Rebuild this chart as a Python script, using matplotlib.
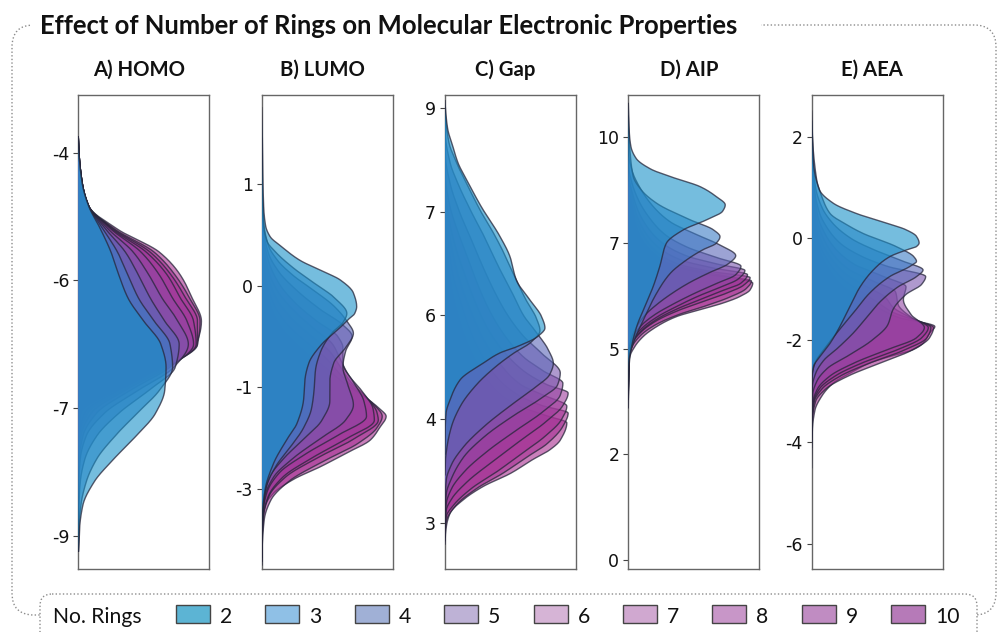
import numpy as np
import matplotlib
matplotlib.use("Agg")
import matplotlib.pyplot as plt
from matplotlib.patches import FancyBboxPatch, Rectangle
from matplotlib.transforms import Affine2D

plt.rcParams["font.family"] = ["DejaVu Sans"]

# ---------------------------------------------------------------------------
# Data: density profiles (value, density in % of panel width) per ring count
# ---------------------------------------------------------------------------
RINGS = [2, 3, 4, 5, 6, 7, 8, 9, 10]

HOMO_LEVELS = [-3.8, -4.0, -4.4, -4.7, -5.0, -5.3, -5.6, -5.9, -6.2, -6.5,
               -6.8, -7.1, -7.4, -7.7, -8.0, -8.3, -8.6, -8.9, -9.2]
HOMO_DENS = {
    2:  [0, 0.5, 3, 8, 17, 25, 31, 38, 50, 63, 67, 66, 59, 44, 27, 12, 3.5, 1, 0.3],
    3:  [0, 0.5, 3, 8, 19, 30, 38, 46, 58, 70, 72, 62, 45, 28, 14, 6, 2, 0.5, 0],
    4:  [0, 0.5, 3, 8, 21, 36, 46, 55, 66, 77, 74, 54, 31, 14, 5, 1.5, 0.5, 0.2, 0],
    5:  [0, 0.5, 3, 8, 23, 42, 54, 64, 76, 84, 73, 46, 20, 6, 1.5, 0.5, 0.2, 0, 0],
    6:  [0, 0.5, 3, 8, 25, 48, 62, 72, 83, 88, 70, 40, 14, 3.5, 0.8, 0.2, 0, 0, 0],
    7:  [0, 0.5, 3, 8, 26, 52, 68, 78, 88, 90, 68, 36, 10, 2, 0.3, 0, 0, 0, 0],
    8:  [0, 0.5, 3, 8, 27, 55, 71, 82, 91, 91, 66, 33, 7, 1, 0.2, 0, 0, 0, 0],
    9:  [0, 0.5, 3, 8, 28, 58, 74, 85, 93, 91, 64, 31, 5, 0.8, 0.2, 0, 0, 0, 0],
    10: [0, 0.5, 3, 8, 30, 62, 78, 87, 94, 90, 62, 28, 2, 0.5, 0.1, 0, 0, 0, 0],
}

LUMO_PTS = {
    2: [(2.0, 0), (1.8, 0.3), (1.2, 0.8), (0.7, 1.5), (0.45, 3), (0.31, 6.4), (0.18, 15),
        (0.0, 29), (-0.13, 44.5), (-0.26, 60), (-0.43, 70), (-0.61, 72.5), (-0.70, 71),
        (-0.78, 66), (-0.85, 62), (-1.13, 44.5), (-1.35, 36), (-1.57, 33), (-1.83, 32),
        (-2.14, 27), (-2.36, 19), (-2.67, 9), (-3.02, 2.5), (-3.4, 0.4), (-3.8, 0.1), (-3.9, 0)],
    3: [(1.6, 0), (0.8, 0.5), (0.45, 1.5), (0.25, 4), (0.1, 11), (-0.1, 24), (-0.3, 40),
        (-0.5, 56), (-0.7, 65), (-0.82, 62), (-0.95, 54), (-1.2, 45), (-1.45, 41), (-1.7, 40),
        (-1.95, 38), (-2.2, 32), (-2.45, 22), (-2.7, 11), (-2.95, 4), (-3.2, 1), (-3.6, 0.2), (-3.9, 0)],
    4: [(1.4, 0), (1.0, 0.3), (0.5, 1.5), (0.2, 5), (0.0, 12), (-0.2, 24), (-0.4, 40),
        (-0.6, 55), (-0.8, 65), (-0.96, 70), (-1.15, 64), (-1.35, 55), (-1.6, 52), (-1.85, 52),
        (-2.1, 46), (-2.35, 32), (-2.6, 17), (-2.85, 6), (-3.1, 1.8), (-3.5, 0.3), (-3.9, 0)],
    5: [(1.3, 0), (0.9, 0.3), (0.4, 1.5), (0.1, 5), (-0.15, 13), (-0.4, 27), (-0.65, 45),
        (-0.85, 62), (-1.0, 69), (-1.2, 64), (-1.4, 62), (-1.65, 66), (-1.9, 70), (-2.1, 64),
        (-2.35, 44), (-2.6, 24), (-2.85, 9), (-3.1, 2.5), (-3.5, 0.4), (-3.9, 0)],
    6: [(1.2, 0), (0.8, 0.3), (0.3, 1.5), (0.0, 5), (-0.3, 13), (-0.55, 25), (-0.8, 42),
        (-1.0, 58), (-1.15, 62), (-1.35, 62), (-1.6, 70), (-1.85, 78), (-2.05, 80), (-2.3, 58),
        (-2.55, 33), (-2.8, 13), (-3.05, 4), (-3.3, 1), (-3.7, 0.2), (-3.95, 0)],
    7: [(1.1, 0), (0.7, 0.3), (0.2, 1.5), (-0.1, 4.5), (-0.4, 12), (-0.65, 24), (-0.9, 40),
        (-1.1, 54), (-1.3, 60), (-1.5, 66), (-1.75, 78), (-1.95, 85), (-2.1, 86), (-2.35, 64),
        (-2.6, 38), (-2.85, 16), (-3.1, 5), (-3.35, 1.2), (-3.7, 0.2), (-3.95, 0)],
    8: [(1.0, 0), (0.6, 0.3), (0.1, 1.5), (-0.2, 4.5), (-0.5, 11), (-0.75, 22), (-1.0, 38),
        (-1.2, 52), (-1.4, 60), (-1.6, 68), (-1.8, 80), (-2.0, 88), (-2.1, 89), (-2.35, 70),
        (-2.6, 42), (-2.85, 18), (-3.1, 5.5), (-3.35, 1.5), (-3.7, 0.3), (-3.95, 0)],
    9: [(0.9, 0), (0.5, 0.3), (0.0, 1.5), (-0.3, 4), (-0.6, 10), (-0.85, 20), (-1.1, 36),
        (-1.3, 50), (-1.5, 60), (-1.7, 72), (-1.9, 86), (-2.05, 92), (-2.2, 88), (-2.4, 74),
        (-2.65, 46), (-2.9, 21), (-3.15, 7), (-3.4, 2), (-3.8, 0.3), (-4.0, 0)],
    10: [(0.8, 0), (0.4, 0.3), (-0.1, 1.5), (-0.4, 4), (-0.7, 9), (-0.95, 18), (-1.2, 33),
         (-1.4, 48), (-1.6, 62), (-1.79, 78), (-1.95, 90), (-2.05, 95), (-2.2, 90), (-2.36, 83),
         (-2.53, 65), (-2.71, 45), (-2.88, 24), (-3.06, 9), (-3.23, 2.5), (-3.5, 0.5),
         (-3.9, 0.1), (-4.0, 0)],
}

GAP_PTS = {
    2: [(9.1, 0), (9.0, 0.3), (8.7, 2), (8.44, 6), (8.2, 10), (7.96, 16.5), (7.57, 27.7),
        (7.14, 42), (6.85, 49.6), (6.51, 54.5), (6.22, 65), (5.98, 73.8), (5.82, 76.3),
        (5.70, 71), (5.55, 55), (5.46, 42), (5.31, 29), (5.07, 11.5), (4.78, 3.8),
        (4.59, 0.8), (4.3, 0.1), (4.0, 0)],
    3: [(9.0, 0), (8.9, 0.3), (8.5, 3), (8.2, 9), (7.81, 19), (7.48, 28), (7.19, 37),
        (6.9, 45), (6.61, 52), (6.22, 62), (5.95, 70), (5.78, 72.5), (5.62, 66), (5.45, 52),
        (5.25, 38), (5.0, 24), (4.7, 12), (4.4, 5), (4.1, 1.5), (3.9, 0.3), (3.7, 0)],
    4: [(8.8, 0), (8.6, 0.3), (8.2, 4), (7.9, 10), (7.5, 20), (7.1, 31), (6.7, 41), (6.3, 52),
        (6.0, 60), (5.75, 70), (5.5, 79), (5.31, 82.7), (5.15, 80), (4.95, 68), (4.7, 50),
        (4.4, 30), (4.1, 14), (3.85, 5), (3.63, 1), (3.4, 0.2), (3.2, 0)],
    5: [(8.5, 0), (8.3, 0.3), (7.9, 4), (7.5, 11), (7.1, 20), (6.7, 29), (6.3, 39), (6.0, 48),
        (5.7, 60), (5.45, 74), (5.17, 88), (5.0, 86), (4.8, 73), (4.55, 52), (4.25, 30),
        (3.95, 14), (3.65, 5), (3.43, 1), (3.2, 0.2), (3.0, 0)],
    6: [(8.2, 0), (8.0, 0.3), (7.6, 3.5), (7.2, 10), (6.8, 18), (6.4, 26), (6.0, 36), (5.7, 46),
        (5.4, 60), (5.2, 75), (5.02, 90), (4.85, 88), (4.6, 74), (4.35, 55), (4.05, 33),
        (3.75, 15), (3.5, 5), (3.29, 1), (3.1, 0.2), (2.9, 0)],
    7: [(8.0, 0), (7.8, 0.3), (7.4, 3), (7.0, 8), (6.6, 15), (6.2, 23), (5.8, 33), (5.5, 44),
        (5.2, 60), (5.0, 78), (4.88, 94), (4.7, 90), (4.45, 76), (4.2, 58), (3.9, 37),
        (3.6, 17), (3.35, 5), (3.19, 1), (3.0, 0.2), (2.8, 0)],
    8: [(7.8, 0), (7.6, 0.3), (7.2, 3), (6.8, 7), (6.4, 13), (6.0, 21), (5.6, 31), (5.3, 42),
        (5.0, 58), (4.85, 75), (4.69, 93), (4.5, 89), (4.25, 76), (4.0, 58), (3.75, 40),
        (3.5, 20), (3.25, 6), (3.1, 1), (2.95, 0.2), (2.8, 0)],
    9: [(7.6, 0), (7.4, 0.3), (7.0, 3), (6.6, 6), (6.2, 12), (5.8, 19), (5.4, 29), (5.1, 40),
        (4.85, 56), (4.7, 74), (4.59, 94), (4.4, 90), (4.15, 78), (3.95, 62), (3.72, 44),
        (3.5, 24), (3.25, 8), (3.03, 1), (2.9, 0.2), (2.75, 0)],
    10: [(7.4, 0), (7.2, 0.3), (6.8, 2.5), (6.4, 5), (6.0, 10), (5.6, 17), (5.2, 28), (4.9, 40),
         (4.7, 56), (4.55, 78), (4.45, 93), (4.2, 88), (4.06, 80), (3.92, 67), (3.72, 50),
         (3.53, 29), (3.34, 14), (3.15, 4), (2.95, 1), (2.8, 0.2), (2.7, 0)],
}

AIP_PTS = {
    2: [(10.8, 0), (10.5, 0.3), (10.1, 0.8), (9.78, 2), (9.5, 6), (9.25, 17), (9.05, 34),
        (8.83, 55), (8.6, 67), (8.4, 74), (8.25, 72), (8.05, 60), (7.81, 42), (7.49, 29),
        (6.94, 24), (6.47, 19), (6.0, 12.7), (5.52, 6.4), (5.05, 2.5), (4.66, 0.5),
        (4.2, 0.1), (3.8, 0)],
    3: [(10.5, 0), (10.2, 0.3), (9.6, 1.5), (9.07, 3.8), (8.75, 10), (8.44, 21.6), (8.05, 47),
        (7.81, 65), (7.65, 70), (7.49, 67), (7.34, 57), (7.1, 44.5), (6.78, 32), (6.31, 21.6),
        (5.68, 11.5), (5.13, 3.8), (4.8, 0.8), (4.4, 0.1), (4.0, 0)],
    4: [(10.2, 0), (9.6, 0.3), (9.2, 3), (8.8, 9), (8.4, 18), (8.0, 32), (7.7, 52), (7.45, 70),
        (7.2, 82), (7.0, 76), (6.8, 62), (6.55, 46), (6.3, 33), (6.05, 22), (5.8, 13),
        (5.5, 6), (5.2, 2), (4.9, 0.5), (4.2, 0)],
    5: [(10.0, 0), (9.3, 0.3), (8.9, 3), (8.5, 8), (8.1, 16), (7.7, 28), (7.4, 45), (7.15, 68),
        (6.95, 86), (6.75, 82), (6.55, 68), (6.3, 50), (6.05, 34), (5.8, 20), (5.55, 10),
        (5.3, 4), (5.0, 1), (4.6, 0.3), (4.1, 0)],
    6: [(9.8, 0), (9.1, 0.3), (8.7, 3), (8.3, 7), (7.9, 14), (7.5, 26), (7.2, 44), (7.0, 68),
        (6.85, 89), (6.65, 84), (6.45, 70), (6.25, 54), (6.0, 37), (5.75, 22), (5.5, 11),
        (5.25, 4), (5.0, 1.2), (4.5, 0.3), (4.0, 0)],
    7: [(9.6, 0), (9.0, 0.3), (8.6, 3), (8.2, 6), (7.8, 12), (7.4, 23), (7.1, 40), (6.9, 66),
        (6.75, 91), (6.55, 86), (6.35, 70), (6.15, 54), (5.95, 38), (5.7, 22), (5.45, 11),
        (5.2, 4), (4.95, 1.2), (4.5, 0.3), (4.0, 0)],
    8: [(9.5, 0), (8.9, 0.3), (8.5, 2.5), (8.1, 5.5), (7.7, 11), (7.3, 21), (7.0, 38),
        (6.82, 64), (6.68, 93), (6.5, 88), (6.3, 74), (6.1, 56), (5.9, 38), (5.65, 21),
        (5.4, 10), (5.15, 3.5), (4.9, 1), (4.4, 0.3), (3.9, 0)],
    9: [(9.4, 0), (8.8, 0.3), (8.4, 2.5), (8.0, 5), (7.6, 10), (7.25, 19), (6.95, 36),
        (6.75, 62), (6.6, 94), (6.42, 90), (6.2, 76), (6.0, 58), (5.8, 38), (5.55, 20),
        (5.3, 9), (5.05, 3), (4.8, 0.8), (4.3, 0.3), (3.8, 0)],
    10: [(9.3, 0), (8.8, 0.3), (8.4, 2.5), (8.0, 5), (7.6, 10), (7.3, 18), (7.0, 32),
         (6.8, 60), (6.65, 85), (6.55, 95), (6.39, 93), (6.23, 85), (6.08, 72.5),
         (5.92, 54.7), (5.76, 37), (5.52, 21.6), (5.29, 11.5), (5.05, 5), (4.81, 1.3),
         (4.3, 0.2), (3.6, 0)],
}

AEA_PTS = {
    2: [(2.5, 0), (2.3, 0.3), (1.5, 1.3), (0.95, 6), (0.69, 16.5), (0.49, 34), (0.3, 57),
        (0.17, 72), (0.04, 80), (-0.09, 82), (-0.16, 80), (-0.23, 72), (-0.36, 59.5),
        (-0.62, 47), (-0.95, 37), (-1.34, 29), (-1.73, 21.5), (-2.06, 14), (-2.32, 6.3),
        (-2.52, 1.3), (-2.8, 0.2), (-3.1, 0)],
    3: [(2.3, 0), (2.1, 0.3), (1.15, 3.8), (0.8, 8), (0.49, 14), (0.25, 28), (0.1, 39),
        (-0.16, 64.5), (-0.36, 78), (-0.45, 80), (-0.55, 75), (-0.75, 59.5), (-1.08, 44),
        (-1.47, 31.6), (-1.86, 19), (-2.19, 9), (-2.45, 2.5), (-2.7, 0.3), (-3.0, 0)],
    4: [(2.0, 0), (1.8, 0.3), (1.0, 3), (0.6, 8), (0.3, 16), (0.0, 30), (-0.25, 50),
        (-0.45, 70), (-0.62, 85), (-0.75, 80), (-0.95, 66), (-1.25, 52), (-1.55, 42),
        (-1.85, 32), (-2.15, 20), (-2.4, 9), (-2.65, 3), (-2.9, 0.5), (-3.2, 0)],
    5: [(1.8, 0), (1.6, 0.3), (0.9, 2.5), (0.5, 6), (0.2, 12), (-0.1, 22), (-0.35, 38),
        (-0.55, 58), (-0.75, 87), (-0.9, 84), (-1.1, 72), (-1.4, 62), (-1.7, 58), (-2.0, 46),
        (-2.3, 28), (-2.55, 12), (-2.8, 4), (-3.05, 0.8), (-3.4, 0)],
    6: [(1.6, 0), (1.4, 0.3), (0.8, 2.5), (0.4, 5), (0.1, 10), (-0.2, 18), (-0.5, 32),
        (-0.75, 55), (-0.95, 72), (-1.2, 70), (-1.5, 76), (-1.75, 86), (-1.95, 80), (-2.2, 56),
        (-2.45, 32), (-2.7, 14), (-2.95, 4.5), (-3.2, 1), (-3.5, 0.2), (-3.8, 0)],
    7: [(1.5, 0), (1.3, 0.3), (0.7, 2), (0.3, 4.5), (0.0, 9), (-0.3, 16), (-0.6, 28),
        (-0.85, 48), (-1.05, 64), (-1.3, 66), (-1.55, 76), (-1.75, 89), (-1.95, 84),
        (-2.2, 64), (-2.45, 38), (-2.7, 18), (-2.95, 6), (-3.2, 1.5), (-3.5, 0.3), (-3.9, 0)],
    8: [(1.4, 0), (1.2, 0.3), (0.6, 2), (0.2, 4), (-0.1, 8), (-0.4, 15), (-0.7, 26),
        (-0.95, 42), (-1.15, 56), (-1.35, 62), (-1.55, 75), (-1.75, 91), (-1.95, 88),
        (-2.2, 70), (-2.45, 44), (-2.7, 22), (-2.95, 8), (-3.2, 2), (-3.6, 0.3), (-4.0, 0)],
    9: [(1.3, 0), (1.1, 0.3), (0.5, 2), (0.1, 4), (-0.2, 7.5), (-0.5, 14), (-0.8, 24),
        (-1.05, 38), (-1.25, 50), (-1.45, 62), (-1.6, 78), (-1.75, 93), (-1.95, 90),
        (-2.2, 76), (-2.45, 52), (-2.7, 28), (-2.95, 11), (-3.2, 3), (-3.6, 0.4), (-4.1, 0)],
    10: [(1.2, 0), (1.0, 0.3), (0.4, 2), (0.0, 4), (-0.3, 7), (-0.6, 13), (-0.9, 22),
         (-1.15, 36), (-1.35, 50), (-1.55, 66), (-1.73, 94), (-1.86, 90), (-2.06, 85),
         (-2.19, 77), (-2.32, 59.5), (-2.45, 44), (-2.65, 29), (-2.84, 16.5), (-3.1, 7.6),
         (-3.37, 2.5), (-3.76, 0.5), (-4.2, 0.1), (-4.5, 0)],
}

PANEL_TITLES = ["A) HOMO", "B) LUMO", "C) Gap", "D) AIP", "E) AEA"]
PANEL_YLIMS = [(-9.434, -3.248), (-4.054, 2.168), (2.34, 9.183), (-0.213, 11.0), (-6.49, 2.815)]
PANEL_TICKS = [
    [-4.0, -17 / 3, -22 / 3, -9.0],
    [1.0, -1 / 3, -5 / 3, -3.0],
    [9.0, 7.5, 6.0, 4.5, 3.0],
    [10.0, 7.5, 5.0, 2.5, 0.0],
    [2.0, 0.0, -2.0, -4.0, -6.0],
]
PANEL_TICKLABELS = [
    ["-4", "-6", "-7", "-9"],
    ["1", "0", "-1", "-3"],
    ["9", "7", "6", "4", "3"],
    ["10", "7", "5", "2", "0"],
    ["2", "0", "-2", "-4", "-6"],
]

FILL_COLORS = ["#1991C8", "#3A7CC6", "#5A66B8", "#7A56AE", "#9246A4",
               "#9E3A9C", "#A33396", "#A52E92", "#A72B8E"]
LEGEND_COLORS = ["#5CB4D4", "#8FC0E6", "#A0B0D6", "#BEB2D6", "#D6B4D6",
                 "#D0A8D0", "#C896C8", "#C08CC2", "#B67AB8"]


def pchip(x, y, xq):
    """Shape-preserving piecewise cubic through (x, y)."""
    x = np.asarray(x, float)
    y = np.asarray(y, float)
    h = np.diff(x)
    d = np.diff(y) / h
    n = len(x)
    m = np.zeros(n)
    for k in range(1, n - 1):
        if d[k - 1] * d[k] > 0:
            w1 = 2 * h[k] + h[k - 1]
            w2 = h[k] + 2 * h[k - 1]
            m[k] = (w1 + w2) / (w1 / d[k - 1] + w2 / d[k])
    m[0] = d[0]
    m[-1] = d[-1]
    idx = np.clip(np.searchsorted(x, xq) - 1, 0, n - 2)
    t = (xq - x[idx]) / h[idx]
    h00 = 2 * t**3 - 3 * t**2 + 1
    h10 = t**3 - 2 * t**2 + t
    h01 = -2 * t**3 + 3 * t**2
    h11 = t**3 - t**2
    return (h00 * y[idx] + h10 * h[idx] * m[idx]
            + h01 * y[idx + 1] + h11 * h[idx] * m[idx + 1])


def profile(points, n=700):
    pts = sorted(points)
    ys = [p[0] for p in pts]
    ds = [p[1] for p in pts]
    yq = np.linspace(ys[0], ys[-1], n)
    return yq, np.clip(pchip(ys, ds, yq), 0, None)


PANEL_DATA = [
    {r: list(zip(HOMO_LEVELS, HOMO_DENS[r])) for r in RINGS},
    LUMO_PTS, GAP_PTS, AIP_PTS, AEA_PTS,
]

# ---------------------------------------------------------------------------
# Figure
# ---------------------------------------------------------------------------
W, H = 997, 632
fig = plt.figure(figsize=(W / 100, H / 100), dpi=100)
fig.patch.set_facecolor("white")
PIX = Affine2D().scale(1 / 100, -1 / 100).translate(0, H / 100) + fig.dpi_scale_trans

AX_LEFT = [78.3, 261.7, 445.0, 628.3, 811.7]
AX_W, AX_TOP, AX_BOT = 131.0, 95.0, 569.0

TITLE_FONT = ["Lato", "DejaVu Sans"]

axes = []
for i, left in enumerate(AX_LEFT):
    ax = fig.add_axes([left / W, (H - AX_BOT) / H, AX_W / W, (AX_BOT - AX_TOP) / H])
    data = PANEL_DATA[i]
    for k in range(len(RINGS) - 1, -1, -1):
        r = RINGS[k]
        yy, dd = profile(data[r])
        ax.fill_betweenx(yy, 0, dd, facecolor=FILL_COLORS[k], alpha=0.6,
                         edgecolor="none", zorder=2 + (len(RINGS) - k) * 2)
        ax.plot(dd, yy, color="#26263a", lw=1.0, alpha=0.75,
                zorder=3 + (len(RINGS) - k) * 2)
    ax.set_xlim(0, 100)
    ax.set_ylim(*PANEL_YLIMS[i])
    ax.set_xticks([])
    ax.set_yticks(PANEL_TICKS[i])
    ax.set_yticklabels(PANEL_TICKLABELS[i], family="DejaVu Sans")
    ax.tick_params(axis="y", labelsize=12.5, length=3.5, width=0.8,
                   color="#444444", labelcolor="#111111", pad=3)
    for s in ax.spines.values():
        s.set_color("#666666")
        s.set_linewidth(1.0)
    axes.append(ax)

renderer = fig.canvas.get_renderer()


def fit_text(t, target_w):
    w = t.get_window_extent(renderer).width
    t.set_fontsize(t.get_fontsize() * target_w / w)


# panel titles
ptitles = []
for i, left in enumerate(AX_LEFT):
    t = fig.text(left + AX_W / 2 - 5, 76, PANEL_TITLES[i], transform=PIX,
                 ha="center", va="baseline", fontsize=14, fontweight="bold",
                 family=TITLE_FONT, color="#111111")
    ptitles.append(t)
fit_text(ptitles[0], 92.5)
for t in ptitles[1:]:
    t.set_fontsize(ptitles[0].get_fontsize())

# outer dotted frame, masked behind the heading
DOT = (0, (1.0, 1.6))
outer = FancyBboxPatch((12, 25), 984, 590, boxstyle="round,pad=0,rounding_size=22",
                       transform=PIX, facecolor="none", edgecolor="#8c8c8c",
                       lw=1.0, linestyle=DOT, zorder=0)
fig.add_artist(outer)
fig.add_artist(Rectangle((31, 8), 730, 34, transform=PIX, facecolor="white",
                         edgecolor="none", zorder=1))
main = fig.text(40, 34, "Effect of Number of Rings on Molecular Electronic Properties",
                transform=PIX, ha="left", va="baseline", fontsize=17,
                fontweight="bold", family=TITLE_FONT, color="#111111", zorder=3)
fit_text(main, 699)

# legend box
lbox = FancyBboxPatch((40, 594), 937, 70, boxstyle="round,pad=0,rounding_size=12",
                      transform=PIX, facecolor="white", edgecolor="#8c8c8c",
                      lw=1.0, linestyle=DOT, zorder=2)
fig.add_artist(lbox)
lt = fig.text(53, 623, "No. Rings", transform=PIX, ha="left", va="baseline",
              fontsize=17, family=TITLE_FONT, color="#111111", zorder=4)
fit_text(lt, 89)
LEG_X0, LEG_STEP = 176.0, 89.4
for k, r in enumerate(RINGS):
    x = LEG_X0 + k * LEG_STEP
    fig.add_artist(Rectangle((x, 605), 34, 18, transform=PIX,
                             facecolor=LEGEND_COLORS[k], edgecolor="#444444",
                             lw=1.0, zorder=4))
    fig.text(x + 44, 623, str(r), transform=PIX, ha="left", va="baseline",
             fontsize=lt.get_fontsize(), family=TITLE_FONT, color="#111111", zorder=4)

fig.savefig("out.png", dpi=100, facecolor="white")
